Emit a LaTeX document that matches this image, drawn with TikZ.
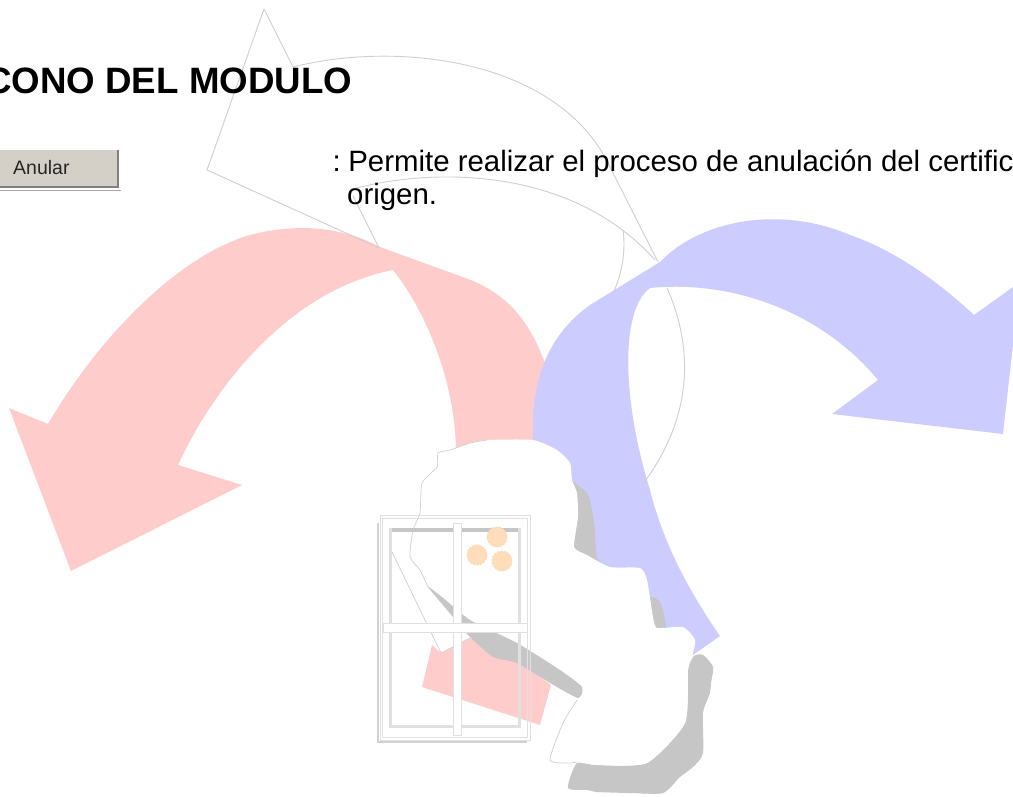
\documentclass[tikz,border=0pt]{standalone}
\usepackage{fontspec}
\setmainfont{Liberation Sans}
\definecolor{pinkarrow}{HTML}{FFCCCC}
\definecolor{bluearrow}{HTML}{CCCCFF}
\definecolor{shade}{HTML}{C6C6C6}
\definecolor{hair}{HTML}{CFCFCF}
\definecolor{winline}{HTML}{E0E0E0}
\definecolor{btn}{HTML}{D4D0C8}
\definecolor{petal}{HTML}{FFDDBB}
\tikzset{
  pinkfill/.style={fill=pinkarrow,draw=none},
  bluefill/.style={fill=bluearrow,draw=none},
  shadefill/.style={fill=shade,draw=none},
  whitefill/.style={fill=white,draw=none},
  hairline/.style={draw=hair,line width=0.9pt,line join=round},
  blobedge/.style={draw=hair,line width=0.7pt,line join=round},
  winframe/.style={draw=winline,line width=1pt,fill=none},
  winbar/.style={fill=white,draw=winline,line width=0.8pt},
  flower/.style={fill=petal,draw=orange!30,line width=1pt,dash pattern=on 2pt off 1.5pt},
  bodytext/.style={anchor=base west,inner sep=0pt,font=\fontsize{29.4}{29}\selectfont}
}
\begin{document}
\begin{tikzpicture}[x=1pt,y=-1pt]
\useasboundingbox (0,0) rectangle (1013,797);
\clip (0,0) rectangle (1013,797);
\fill[white] (0,0) rectangle (1013,797);
% pink arrow
\fill[pinkfill] (48,424) -- (9,408) -- (71,571) -- (242,485) -- (178,465)
  .. controls (215,385) and (290,290) .. (393,270)
  .. controls (425,310) and (455,380) .. (456,450) -- (560,450) -- (552,385)
  .. controls (535,325) and (510,295) .. (468,279)
  -- (380,247)
  .. controls (345,228) and (300,222) .. (250,235)
  .. controls (180,255) and (100,335) .. (48,424) -- cycle;
% blue arrow
\fill[bluefill] (974,315) -- (1020,282) -- (1003,434) -- (832,414) -- (878,380)
  .. controls (820,310) and (730,280) .. (650,288)
  .. controls (620,310) and (622,400) .. (650,490)
  .. controls (665,550) and (695,600) .. (720,636)
  -- (693,655) -- (600,600) -- (533,440)
  .. controls (530,370) and (555,330) .. (590,305)
  -- (660,262)
  .. controls (700,220) and (780,205) .. (850,235)
  .. controls (900,252) and (945,288) .. (974,315) -- cycle;
% hairlines of the white arrow
\draw[hairline] (293,67) -- (264,9) -- (207,170) -- (379,248) -- (353,196);
\draw[hairline] (353,189) .. controls (430,168) and (570,165) .. (655,260);
\draw[hairline] (293,67) .. controls (400,40) and (560,60) .. (610,167) -- (658,262);
\draw[hairline] (623,230) .. controls (626,250) and (622,275) .. (613,293);
\draw[hairline] (667,288) .. controls (690,340) and (698,410) .. (643,484);
% pink tail under window
\fill[pinkfill] (432,645) -- (422,687) -- (540,725) -- (551,685) -- (517,660) -- (493,655) -- (470,635) -- (441,653) -- cycle;
% gray shadows
\fill[shadefill] plot[smooth cycle,tension=0.4] coordinates {(570,480) (587,493) (592,510) (595,530) (597,558) (610,570) (585,556) (574,547) (578,517) (577,493)};
\fill[shadefill] plot[smooth cycle,tension=0.4] coordinates {(649,597) (660,602) (666,627) (657,628) (653,617)};
\fill[shadefill] plot[smooth cycle,tension=0.4] coordinates {(694,656) (703,655) (713,667) (711,683) (710,693) (703,713) (703,753)
  (693,767) (680,777) (663,793) (630,793) (597,792) (588,790) (568,788) (577,763) (597,765) (647,763) (685,723) (688,670)};
% white blob
\fill[whitefill] plot[smooth cycle,tension=0.35] coordinates {(438,453) (450,450) (470,443) (487,440) (533,440)
  (557,450) (570,463) (572,480) (577,493) (578,517) (574,547) (587,555) (610,567) (640,568)
  (647,580) (653,617) (657,628) (683,627) (695,640) (692,657) (688,670) (685,723)
  (647,763) (597,765) (577,762) (570,763) (550,760) (563,723) (577,700) (581,687)
  (560,670) (510,640) (470,620) (440,600) (428,587) (420,570) (410,557) (413,530) (420,513) (422,483) (437,467)};
\fill[whitefill] (392,552) -- (425,575) -- (470,630) -- (472,637) -- (441,653) -- (425,620) -- cycle;
% gray band
\fill[shadefill] plot[smooth cycle,tension=0.35] coordinates {(428,587) (442,597) (470,620) (517,643) (560,670) (582,687) (578,698) (550,683) (517,663) (493,657) (470,637) (453,617)};
% blob edges
\draw[blobedge] plot[smooth,tension=0.35] coordinates {(487,440) (470,443) (450,450) (438,453) (437,467) (422,483) (420,513) (413,530) (410,557) (420,570) (428,587)};
\draw[blobedge] (392,552) -- (425,620) -- (441,653) -- (472,637);
\draw[blobedge] plot[smooth,tension=0.35] coordinates {(577,700) (563,723) (550,760) (570,763) (577,762)};
% window
\draw[draw=shade!80,line width=2pt] (378,523) -- (378,742) -- (527,742);
\draw[winframe] (380,515) rectangle (530,740);
\draw[winframe] (382,518) rectangle (527.5,737);
\draw[draw=shade,line width=4pt] (391,530) -- (519,530);
\draw[draw=winline,line width=3pt] (390.5,528) -- (390.5,726) -- (519,726) -- (519,528);
\fill[petal,flower] (497,537) circle (10);
\fill[petal,flower] (477,555) circle (10);
\fill[petal,flower] (502,561) circle (10);
\draw[winbar] (453,523) rectangle (461,735);
\draw[winbar] (383,623) rectangle (527,632);
% button
\fill[btn] (-2,150) rectangle (117,186);
\draw[draw=gray,line width=1.6pt] (-2,187) -- (118,187) -- (118,150);
\draw[draw=gray!70,line width=1pt] (-2,191) -- (121,191);
\node[anchor=base west,inner sep=0pt,font=\fontsize{19.5}{19}\selectfont,text=black!85] (btnlabel) at (13,175) {Anular};
% texts
\node[anchor=base west,inner sep=0pt,font=\fontsize{36.7}{36}\selectfont\bfseries] (title) at (-15,93.5) {CONO DEL MODULO};
\node[bodytext] (bodya) at (332.5,172) {:\hspace{7.5pt}Permite realizar el proceso de anulación del certific};
\node[bodytext] (bodyb) at (347,205) {origen.};
\end{tikzpicture}
\end{document}
